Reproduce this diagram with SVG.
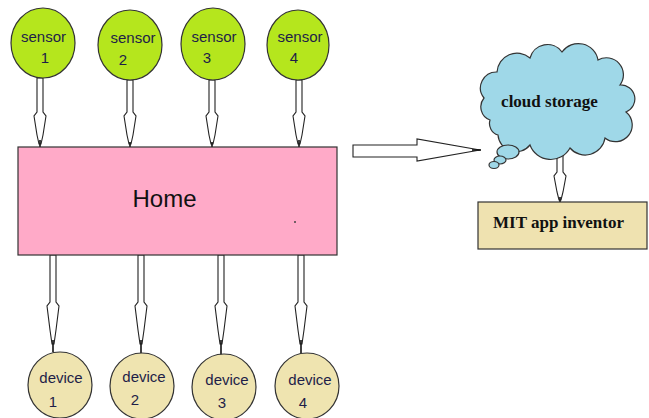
<svg xmlns="http://www.w3.org/2000/svg" width="649" height="418" viewBox="0 0 649 418">
  <style>
    .sensor { fill: #b5e61d; stroke: #333; stroke-width: 1.2; }
    .device { fill: #efe4b0; stroke: #333; stroke-width: 1.2; }
    .home { fill: #ffaac8; stroke: #333; stroke-width: 1.2; }
    .mit { fill: #efe2b0; stroke: #333; stroke-width: 1.2; }
    .cloud { fill: #9fd8e8; stroke: #333; stroke-width: 1.2; }
    .arrow { fill: #fff; stroke: #222; stroke-width: 1.1; stroke-linejoin: miter; }
    .tip { stroke: #111; stroke-width: 1.6; }
    .lbl { font-family: "Liberation Sans", Arial, sans-serif; font-size: 15px; fill: #1e1e48; text-anchor: middle; }
    .big { font-family: "Liberation Sans", Arial, sans-serif; font-size: 24px; fill: #111; text-anchor: middle; }
    .serif { font-family: "Liberation Serif", "Times New Roman", serif; font-size: 17px; font-weight: bold; fill: #111; }
  </style>

  <!-- connectors -->
  <g id="connectors">
    <!-- sensors down into home -->
    <polygon class="arrow" points="37,78 43,78 43,112 46,116 43,135 41,144 39,144 37,135 34,116 37,112"/>
    <line class="tip" x1="40" y1="140" x2="40" y2="147"/>
    <polygon class="arrow" points="127,80 133,80 133,112 136,116 133,135 131,144 129,144 127,135 124,116 127,112"/>
    <line class="tip" x1="130" y1="142" x2="130" y2="147"/>
    <polygon class="arrow" points="209,80 215,80 215,112 218,116 215,135 213,144 211,144 209,135 206,116 209,112"/>
    <line class="tip" x1="212" y1="142" x2="212" y2="147"/>
    <polygon class="arrow" points="296,80 302,80 302,112 305,116 302,135 300,144 298,144 296,135 293,116 296,112"/>
    <line class="tip" x1="299" y1="140" x2="299" y2="147"/>

    <!-- home down to devices -->
    <polygon class="arrow" points="50,255 56,255 56,302 59,306 56,330 54,344 52,344 50,330 47,306 50,302"/>
    <line class="tip" x1="53" y1="340" x2="53" y2="352"/>
    <polygon class="arrow" points="138,255 144,255 144,302 147,306 144,330 142,344 140,344 138,330 135,306 138,302"/>
    <line class="tip" x1="141" y1="340" x2="141" y2="353"/>
    <polygon class="arrow" points="218,255 224,255 224,302 227,306 224,330 222,344 220,344 218,330 215,306 218,302"/>
    <line class="tip" x1="221" y1="340" x2="221" y2="355"/>
    <polygon class="arrow" points="298,255 304,255 304,302 307,306 304,330 302,344 300,344 298,330 295,306 298,302"/>
    <line class="tip" x1="301" y1="340" x2="301" y2="353"/>

    <!-- home to cloud -->
    <polygon class="arrow" points="353,145 417,145 417,139 480,150 417,161 417,157 353,157"/>
    <line class="tip" x1="472" y1="150" x2="481" y2="150"/>

    <!-- cloud down to app inventor -->
    <polygon class="arrow" points="557,150 563,150 563,172 566,176 563,192 561,200 559,200 557,192 554,176 557,172"/>
    <line class="tip" x1="560" y1="197" x2="560" y2="203"/>
  </g>

  <!-- sensors -->
  <g id="sensor1">
    <ellipse class="sensor" cx="43" cy="43" rx="32" ry="35"/>
    <text class="lbl" x="43.5" y="42">sensor</text>
    <text class="lbl" x="45" y="63">1</text>
  </g>
  <g id="sensor2">
    <ellipse class="sensor" cx="130" cy="45" rx="32" ry="35"/>
    <text class="lbl" x="133" y="43">sensor</text>
    <text class="lbl" x="123" y="65">2</text>
  </g>
  <g id="sensor3">
    <ellipse class="sensor" cx="213" cy="44" rx="32" ry="36"/>
    <text class="lbl" x="214" y="42">sensor</text>
    <text class="lbl" x="207" y="63">3</text>
  </g>
  <g id="sensor4">
    <ellipse class="sensor" cx="298" cy="45" rx="31" ry="35"/>
    <text class="lbl" x="300" y="42">sensor</text>
    <text class="lbl" x="294" y="63">4</text>
  </g>

  <!-- home -->
  <g id="home">
    <rect class="home" x="18" y="147" width="319" height="108"/>
    <text class="big" x="164.5" y="207">Home</text>
    <circle cx="295" cy="222" r="1" fill="#444"/>
  </g>

  <!-- devices -->
  <g id="device1">
    <ellipse class="device" cx="60" cy="385" rx="32" ry="33"/>
    <text class="lbl" x="61" y="383">device</text>
    <text class="lbl" x="53" y="407">1</text>
  </g>
  <g id="device2">
    <ellipse class="device" cx="142" cy="386" rx="32" ry="33"/>
    <text class="lbl" x="144" y="382">device</text>
    <text class="lbl" x="135" y="405">2</text>
  </g>
  <g id="device3">
    <ellipse class="device" cx="224" cy="387" rx="32" ry="33"/>
    <text class="lbl" x="227" y="385">device</text>
    <text class="lbl" x="222" y="408">3</text>
  </g>
  <g id="device4">
    <ellipse class="device" cx="307" cy="386" rx="32" ry="33"/>
    <text class="lbl" x="310" y="385">device</text>
    <text class="lbl" x="303" y="408">4</text>
  </g>

  <!-- cloud storage -->
  <g id="cloud">
    <path class="cloud" d="M 490 120 A 14 14 0 0 1 484 98 A 16 16 0 0 1 497 72 A 20 20 0 0 1 530 58 A 18 18 0 0 1 562 52 A 20 20 0 0 1 598 60 A 17 17 0 0 1 620 85 A 14 14 0 0 1 626 112 A 16 16 0 0 1 605 138 A 20 20 0 0 1 570 148 A 22 22 0 0 1 530 145 A 18 18 0 0 1 498 135 A 12 12 0 0 1 490 120 Z"/>
    <ellipse class="cloud" cx="508" cy="152" rx="11" ry="7"/>
    <ellipse class="cloud" cx="500" cy="160" rx="6" ry="4"/>
    <ellipse class="cloud" cx="494" cy="165" rx="5" ry="3.5"/>
    <text class="serif" x="549.5" y="107" text-anchor="middle">cloud storage</text>
  </g>

  <!-- MIT app inventor -->
  <g id="appinventor">
    <rect class="mit" x="478" y="202" width="169" height="47"/>
    <text class="serif" x="493" y="228">MIT app inventor</text>
  </g>
</svg>
